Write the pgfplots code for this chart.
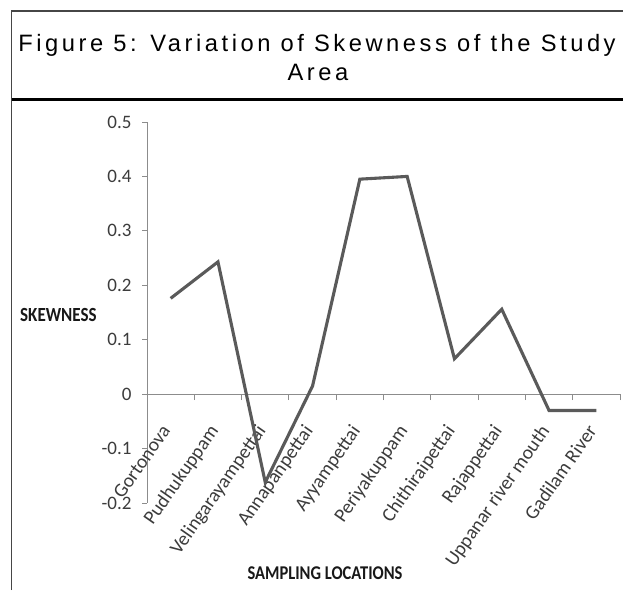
\documentclass[border=0pt]{standalone}
\usepackage{pgfplots}
\pgfplotsset{compat=1.18}
\usepackage{fontspec}
\setmainfont{Carlito}
\newfontfamily\titlefont[LetterSpace=15]{Liberation Sans}
\definecolor{lineg}{RGB}{90,90,90}
\definecolor{axg}{RGB}{140,140,140}
\definecolor{txtg}{RGB}{60,60,60}
\definecolor{boxg}{RGB}{70,70,70}
\begin{document}
\begin{tikzpicture}[x=1pt,y=1pt]
\path[use as bounding box] (0,0) rectangle (623,590);
\fill[white] (0,0) rectangle (623,590);
\draw[boxg, line width=1.5pt] (11.5,0) -- (11.5,579) -- (623,579);
\draw[black, line width=3pt] (11.5,490) -- (623,490);
\node[anchor=base, inner sep=0pt] at (317,538.5) {\titlefont\fontsize{23.7}{28}\selectfont Figure 5: Variation of Skewness of the Study};
\node[anchor=base, inner sep=0pt] at (318,509) {\titlefont\fontsize{23.7}{28}\selectfont Area};
\node[anchor=west, inner sep=0pt, txtg!40!black] at (20,275) {\scalebox{1}[1.18]{\fontsize{17}{20}\selectfont\bfseries SKEWNESS}};
\node[inner sep=0pt, txtg!40!black] at (325,17) {\scalebox{1}[1.18]{\fontsize{16.5}{20}\selectfont\bfseries SAMPLING LOCATIONS}};
\begin{axis}[
  at={(147pt,87pt)}, anchor=south west,
  scale only axis, width=473pt, height=381pt,
  xmin=0.5, xmax=10.5, ymin=-0.2, ymax=0.5,
  axis x line*=middle, axis y line*=left,
  axis line style={axg, line width=1pt},
  hide obscured x ticks=false, hide obscured y ticks=false,
  xtick={1,2,3,4,5,6,7,8,9,10},
  xticklabels={Gortonova,Pudhukuppam,Velingarayampettai,Annapanpettai,Ayyampettai,Periyakuppam,Chithiraipettai,Rajappettai,Uppanar river mouth,Gadilam River},
  minor xtick={1.5,2.5,3.5,4.5,5.5,6.5,7.5,8.5,9.5,10.5},
  major x tick style={draw=none},
  minor x tick style={axg, line width=1pt},
  minor tick length=6pt,
  ytick={-0.2,-0.1,0,0.1,0.2,0.3,0.4,0.5},
  yticklabels={-0.2,-0.1,0,0.1,0.2,0.3,0.4,0.5},
  major y tick style={axg, line width=1pt},
  major tick length=5pt,
  tick align=outside,
  yticklabel style={font=\fontsize{19}{21}\selectfont, text=txtg, xshift=-7pt},
  xticklabel style={font=\fontsize{19.5}{21}\selectfont, text=txtg, xshift=-10pt, yshift=-24pt, rotate=55, anchor=north east, inner sep=0pt},
  clip=false,
]
\addplot[lineg, line width=3.1pt] coordinates {
(1,0.176) (2,0.243) (3,-0.162) (4,0.015) (5,0.395) (6,0.400) (7,0.065) (8,0.156) (9,-0.030) (10,-0.030)
};
\end{axis}
\end{tikzpicture}
\end{document}
